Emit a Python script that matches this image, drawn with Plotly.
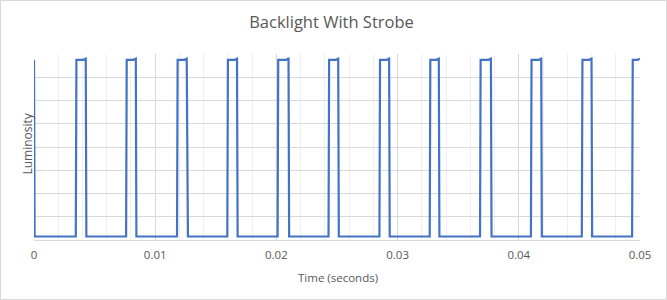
import plotly.graph_objects as go

title_text = "Backlight With Strobe"
x_title = "Time (seconds)"
y_title = "Luminosity"

time_s = [0, 0.00005,
          0.00345, 0.0035, 0.00407, 0.00427, 0.00432,
          0.0076, 0.00765, 0.0082, 0.0084, 0.00845,
          0.0118, 0.01185, 0.0124, 0.0126, 0.0127,
          0.01595, 0.016, 0.01655, 0.01675, 0.0168,
          0.0201, 0.02015, 0.0208, 0.021, 0.02105,
          0.0243, 0.02435, 0.0249, 0.0251, 0.02515,
          0.0285, 0.02855, 0.0291, 0.0293, 0.02935,
          0.03265, 0.0327, 0.0332, 0.0334, 0.03345,
          0.0368, 0.03685, 0.0375, 0.0377, 0.03775,
          0.041, 0.04105, 0.04165, 0.04185, 0.0419,
          0.0452, 0.04525, 0.0458, 0.046, 0.04605,
          0.04935, 0.0494, 0.0498, 0.05]

luminosity = [7.75, 0.15,
              0.15, 7.75, 7.75, 7.8, 0.15,
              0.15, 7.75, 7.75, 7.8, 0.15,
              0.15, 7.75, 7.75, 7.8, 0.15,
              0.15, 7.75, 7.75, 7.8, 0.15,
              0.15, 7.75, 7.75, 7.8, 0.15,
              0.15, 7.75, 7.75, 7.8, 0.15,
              0.15, 7.75, 7.75, 7.8, 0.15,
              0.15, 7.75, 7.75, 7.8, 0.15,
              0.15, 7.75, 7.75, 7.8, 0.15,
              0.15, 7.75, 7.75, 7.8, 0.15,
              0.15, 7.75, 7.75, 7.8, 0.15,
              0.15, 7.75, 7.75, 7.8]

W, H = 667, 300
ml, mr, mt, mb = 34, 27, 54, 60
pw, ph = W - ml - mr, H - mt - mb

font_family = "'Open Sans', Lato, sans-serif"
text_color = "#595959"

fig = go.Figure()
fig.add_trace(go.Scatter(
    x=time_s, y=luminosity, mode="lines",
    line=dict(color="#4472C4", width=2.2),
    hoverinfo="skip", showlegend=False,
))

fig.update_layout(
    width=W, height=H,
    margin=dict(l=ml, r=mr, t=mt, b=mb),
    paper_bgcolor="white", plot_bgcolor="white",
    font=dict(family=font_family, color=text_color, size=11.5),
    title=dict(text=title_text, x=0.497, xanchor="center", y=1 - 22.5 / H, yanchor="middle",
               font=dict(size=16.5, color=text_color, family=font_family)),
    xaxis=dict(
        range=[0, 0.05], dtick=0.01, tick0=0,
        showgrid=True, gridcolor="#d9d9d9", gridwidth=1,
        minor=dict(dtick=0.002, showgrid=True, gridcolor="#f0f0f0", gridwidth=1),
        showline=True, linecolor="#d9d9d9", linewidth=1,
        ticks="", ticklabelstandoff=4,
        tickfont=dict(size=11.5, color=text_color),
        zeroline=False, automargin=False,
    ),
    yaxis=dict(
        range=[0, 8], dtick=1, tick0=0,
        showgrid=True, gridcolor="#d9d9d9", gridwidth=1,
        showticklabels=False, ticks="", showline=False, zeroline=False,
        automargin=False,
    ),
    annotations=[
        dict(text=x_title, xref="paper", yref="paper",
             x=(338 - ml) / pw, y=(240 - 277.5) / ph,
             xanchor="center", yanchor="middle", showarrow=False,
             font=dict(size=11.5, color=text_color)),
        dict(text=y_title, xref="paper", yref="paper", textangle=-90,
             x=(27 - ml) / pw, y=(240 - 143.5) / ph,
             xanchor="center", yanchor="middle", showarrow=False,
             font=dict(size=12, color=text_color)),
    ],
    shapes=[dict(
        type="rect", xref="paper", yref="paper",
        x0=(-ml + 0.5) / pw, x1=(pw + mr - 0.5) / pw,
        y0=(-mb + 0.5) / ph, y1=(ph + mt - 0.5) / ph,
        line=dict(color="#d9d9d9", width=1), fillcolor="rgba(0,0,0,0)", layer="below",
    )],
)

fig.write_html("out.html")
